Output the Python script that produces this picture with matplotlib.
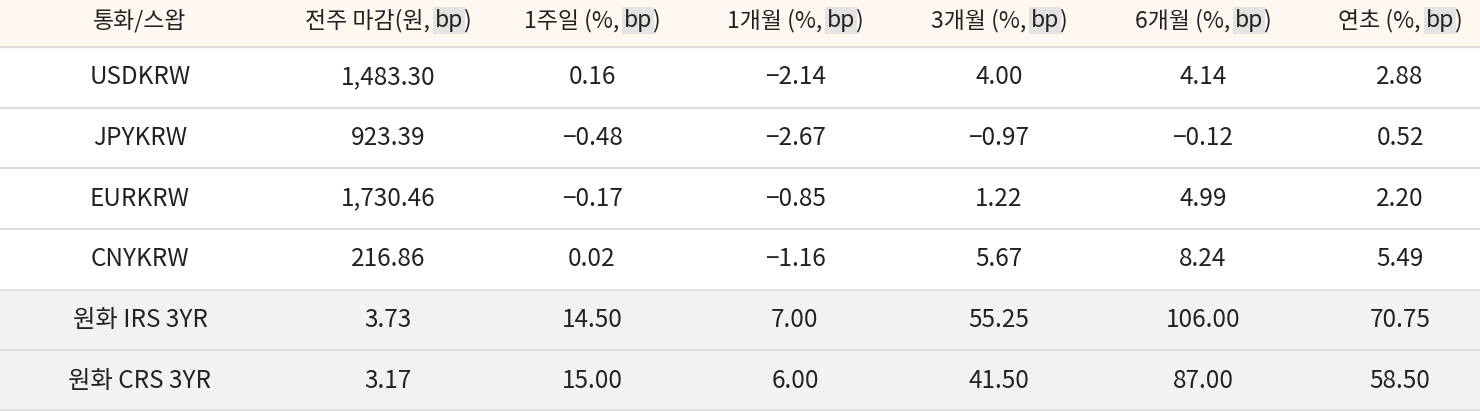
import matplotlib
matplotlib.use("Agg")
import matplotlib.pyplot as plt
from matplotlib.patches import Rectangle

plt.rcParams['font.family'] = ['Noto Sans CJK KR', 'DejaVu Sans']

headers = ["통화/스왑", "전주 마감(원, bp)", "1주일 (%, bp)", "1개월 (%, bp)", "3개월 (%, bp)", "6개월 (%, bp)", "연초 (%, bp)"]
names = ["USDKRW", "JPYKRW", "EURKRW", "CNYKRW", "원화 IRS 3YR", "원화 CRS 3YR"]
close = ["1,483.30", "923.39", "1,730.46", "216.86", "3.73", "3.17"]
w1 = ["0.16", "−0.48", "−0.17", "0.02", "14.50", "15.00"]
m1 = ["−2.14", "−2.67", "−0.85", "−1.16", "7.00", "6.00"]
m3 = ["4.00", "−0.97", "1.22", "5.67", "55.25", "41.50"]
m6 = ["4.14", "−0.12", "4.99", "8.24", "106.00", "87.00"]
ytd = ["2.88", "0.52", "2.20", "5.49", "70.75", "58.50"]
columns = [names, close, w1, m1, m3, m6, ytd]

W, H = 1480, 411
fig = plt.figure(figsize=(W/100, H/100), dpi=100)
ax = fig.add_axes([0, 0, 1, 1])
ax.set_xlim(0, W); ax.set_ylim(H, 0); ax.axis('off')

centers = [140, 388, 592, 795, 999, 1203, 1400]
hdr_h = 47
row_h = (H - hdr_h) / 6
txt = '#222222'
fs = 17.5
hfs = 16.5

ax.add_patch(Rectangle((0, 0), W, hdr_h, color='#FFF8F1', zorder=0))
for i in range(6):
    y0 = hdr_h + i*row_h
    if i >= 4:
        ax.add_patch(Rectangle((0, y0), W, row_h, color='#F2F2F2', zorder=0))
    ax.plot([0, W], [y0, y0], color='#DEDEDE', lw=1.5, zorder=1)
ax.plot([0, W], [H-1, H-1], color='#DEDEDE', lw=1.5)

fig.canvas.draw()
r = fig.canvas.get_renderer()

def width(s):
    t = ax.text(0, 0, s, fontsize=hfs, fontweight='medium')
    bb = t.get_window_extent(r)
    t.remove()
    return bb.width

for c, h in zip(centers, headers):
    yc = hdr_h/2 - 3
    if 'bp' in h:
        pre, post = h.split('bp')
        parts = [(pre, None), ('bp', '#E3E3E3'), (post, None)]
        total = sum(width(p) for p, _ in parts)
        x = c - total/2
        for p, bg in parts:
            kw = {}
            if bg:
                kw['bbox'] = dict(boxstyle='square,pad=0.08', fc=bg, ec='none')
            ax.text(x, yc, p, fontsize=hfs, fontweight='medium', color=txt,
                    ha='left', va='center', **kw)
            x += width(p)
    else:
        ax.text(c, yc, h, fontsize=hfs, fontweight='medium', color=txt, ha='center', va='center')

for c, col in zip(centers, columns):
    for i, v in enumerate(col):
        ax.text(c, hdr_h + (i+0.5)*row_h, v, fontsize=fs, color=txt, ha='center', va='center')

fig.savefig('out.png', dpi=100)
